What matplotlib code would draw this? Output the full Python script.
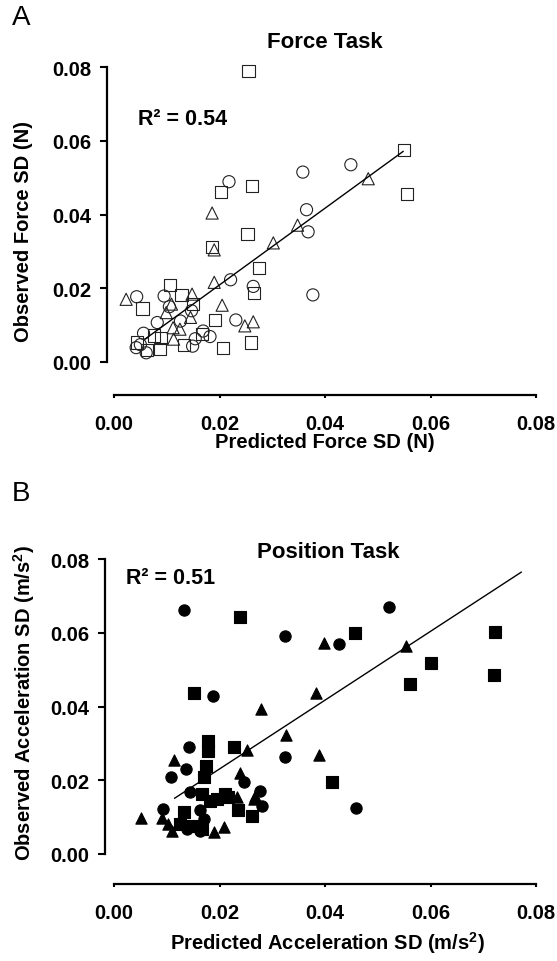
import numpy as np
import matplotlib
matplotlib.use('Agg')
import matplotlib.pyplot as plt

plt.rcParams['font.family'] = ['Liberation Sans', 'DejaVu Sans']
plt.rcParams['mathtext.fontset'] = 'custom'
plt.rcParams['mathtext.rm'] = 'Liberation Sans'
plt.rcParams['mathtext.bf'] = 'Liberation Sans:bold'

# Panel A : Force task (open markers)
force_sq_x = [0.0255, 0.0550, 0.0555, 0.0203, 0.0262, 0.0253, 0.0186, 0.0275, 0.0265, 0.0106, 0.0128, 0.0149,
              0.0054, 0.0192, 0.0259, 0.0207, 0.0044, 0.0062, 0.0076, 0.0087, 0.0132, 0.0166, 0.0089]
force_sq_y = [0.0788, 0.0575, 0.0456, 0.0462, 0.0477, 0.0347, 0.0311, 0.0254, 0.0188, 0.0208, 0.0182, 0.0157,
              0.0145, 0.0115, 0.0053, 0.0037, 0.0053, 0.0032, 0.0072, 0.0035, 0.0045, 0.0076, 0.0065]
force_ci_x = [0.0449, 0.0358, 0.0218, 0.0365, 0.0368, 0.0377, 0.0221, 0.0264, 0.0231, 0.0043, 0.0095, 0.0126,
              0.0082, 0.0056, 0.0149, 0.0154, 0.0169, 0.0182, 0.0042, 0.0061, 0.0147, 0.0050, 0.0105]
force_ci_y = [0.0535, 0.0515, 0.0489, 0.0413, 0.0353, 0.0182, 0.0223, 0.0205, 0.0114, 0.0177, 0.0179, 0.0111,
              0.0107, 0.0078, 0.0043, 0.0063, 0.0084, 0.0069, 0.0039, 0.0025, 0.0139, 0.0047, 0.0150]
force_tr_x = [0.0482, 0.0348, 0.0302, 0.0186, 0.0190, 0.0190, 0.0205, 0.0248, 0.0264, 0.0023, 0.0148, 0.0109,
              0.0099, 0.0112, 0.0113, 0.0125, 0.0145]
force_tr_y = [0.0497, 0.0371, 0.0323, 0.0404, 0.0304, 0.0216, 0.0154, 0.0098, 0.0109, 0.0170, 0.0184, 0.0157,
              0.0134, 0.0093, 0.0062, 0.0089, 0.0121]
force_fit_x = [0.0059, 0.0548]
force_fit_slope, force_fit_icpt = 1.04, 0.0001
force_r2 = 0.54

# Panel B : Position task (filled markers)
pos_ci_x = [0.0132, 0.0521, 0.0325, 0.0426, 0.0187, 0.0143, 0.0136, 0.0108, 0.0144, 0.0246, 0.0324, 0.0459,
            0.0277, 0.0281, 0.0092, 0.0163, 0.0138, 0.0170, 0.0157, 0.0163]
pos_ci_y = [0.0662, 0.0671, 0.0592, 0.0570, 0.0429, 0.0289, 0.0231, 0.0208, 0.0167, 0.0196, 0.0262, 0.0125,
            0.0172, 0.0131, 0.0122, 0.0118, 0.0068, 0.0095, 0.0077, 0.0063]
pos_sq_x = [0.0238, 0.0456, 0.0722, 0.0600, 0.0562, 0.0721, 0.0152, 0.0414, 0.0179, 0.0179, 0.0227, 0.0174,
            0.0171, 0.0167, 0.0182, 0.0211, 0.0236, 0.0262, 0.0133, 0.0125, 0.0148, 0.0167, 0.0195, 0.0217]
pos_sq_y = [0.0644, 0.0599, 0.0601, 0.0518, 0.0461, 0.0485, 0.0437, 0.0194, 0.0307, 0.0280, 0.0289, 0.0240,
            0.0208, 0.0163, 0.0145, 0.0163, 0.0120, 0.0104, 0.0113, 0.0081, 0.0077, 0.0068, 0.0149, 0.0154]
pos_tr_x = [0.0553, 0.0399, 0.0382, 0.0279, 0.0326, 0.0388, 0.0252, 0.0113, 0.0238, 0.0051, 0.0091, 0.0110,
            0.0103, 0.0189, 0.0208, 0.0233, 0.0268, 0.0265]
pos_tr_y = [0.0563, 0.0572, 0.0437, 0.0393, 0.0323, 0.0268, 0.0282, 0.0255, 0.0220, 0.0097, 0.0097, 0.0063,
            0.0081, 0.0059, 0.0072, 0.0154, 0.0158, 0.0149]
pos_fit_x = [0.0115, 0.0772]
pos_fit_slope, pos_fit_icpt = 0.933, 0.0044
pos_r2 = 0.51

ticks = [0.00, 0.02, 0.04, 0.06, 0.08]
W, H = 557, 962

fig = plt.figure(figsize=(W / 100, H / 100), dpi=100)


def make_axes(left_px, top_px, bottom_px, right_px=536):
    """axes en pixels ; 0.08 en haut, 0 à 114 px en x"""
    ax = fig.add_axes([left_px / W, 1 - bottom_px / H, (right_px - left_px) / W, (bottom_px - top_px) / H])
    xscale = 0.08 / (right_px - 114)
    ax.set_xlim(-(114 - left_px) * xscale, 0.08)
    yscale = 0.08 / 295
    ax.set_ylim(0.08 - (bottom_px - top_px) * yscale, 0.08)
    for s in ['top', 'right']:
        ax.spines[s].set_visible(False)
    ax.spines['left'].set_bounds(0, 0.08)
    ax.spines['bottom'].set_bounds(0, 0.08)
    ax.spines['left'].set_linewidth(1.6)
    ax.spines['bottom'].set_linewidth(1.6)
    ax.set_xticks(ticks)
    ax.set_yticks(ticks)
    ax.set_xticklabels(['%.2f' % t for t in ticks])
    ax.set_yticklabels(['%.2f' % t for t in ticks])
    ax.tick_params(axis='y', length=5, width=1.5, pad=6, labelsize=14.5)
    ax.tick_params(axis='x', length=2.5, width=1.5, pad=11, labelsize=14.5)
    for lab in ax.get_xticklabels() + ax.get_yticklabels():
        lab.set_fontweight('bold')
    ax.patch.set_visible(False)
    return ax


def scatter_group(ax, xs, ys, marker, filled):
    if filled:
        ax.scatter(xs, ys, s=66, marker=marker, facecolor='black', edgecolor='black', linewidth=0.8,
                   zorder=3, clip_on=False)
    else:
        ax.scatter(xs, ys, s=76, marker=marker, facecolor='none', edgecolor='#222222', linewidth=0.8,
                   zorder=3, clip_on=False)


# ---- A
axA = make_axes(107, 68, 396)
scatter_group(axA, force_ci_x, force_ci_y, 'o', False)
scatter_group(axA, force_tr_x, force_tr_y, '^', False)
scatter_group(axA, force_sq_x, force_sq_y, 's', False)
fx = np.array(force_fit_x)
axA.plot(fx, force_fit_slope * fx + force_fit_icpt, 'k-', lw=1.0, zorder=4)
axA.text(0.0045, 0.0659, 'R² = %.2f' % force_r2, fontsize=15.5, fontweight='bold', va='center', ha='left')
fig.text(325 / W, 1 - 43 / H, 'Force Task', fontsize=16, fontweight='bold', ha='center', va='center')
fig.text(325 / W, 1 - 443 / H, 'Predicted Force SD (N)', fontsize=14.5, fontweight='bold', ha='center', va='center')
fig.text(24 / W, 1 - 232 / H, 'Observed Force SD (N)', fontsize=14.5, fontweight='bold', ha='center', va='center',
         rotation=90)
fig.text(12 / W, 1 - 18 / H, 'A', fontsize=20, ha='left', va='center')

# ---- B
axB = make_axes(105, 560, 885)
scatter_group(axB, pos_ci_x, pos_ci_y, 'o', True)
scatter_group(axB, pos_tr_x, pos_tr_y, '^', True)
scatter_group(axB, pos_sq_x, pos_sq_y, 's', True)
px = np.array(pos_fit_x)
axB.plot(px, pos_fit_slope * px + pos_fit_icpt, 'k-', lw=1.0, zorder=4)
axB.text(0.0023, 0.0751, 'R² = %.2f' % pos_r2, fontsize=15.5, fontweight='bold', va='center', ha='left')
fig.text(328 / W, 1 - 552 / H, 'Position Task', fontsize=16, fontweight='bold', ha='center', va='center')
fig.text(327 / W, 1 - 943 / H, r'Predicted Acceleration SD (m/s$^\mathbf{2}$)', fontsize=14.5, fontweight='bold',
         ha='center', va='center')
fig.text(24 / W, 1 - 703 / H, r'Observed Acceleration SD (m/s$^\mathbf{2}$)', fontsize=14.5, fontweight='bold',
         ha='center', va='center', rotation=90)
fig.text(12 / W, 1 - 494 / H, 'B', fontsize=20, ha='left', va='center')

fig.savefig('out.png', dpi=100)
